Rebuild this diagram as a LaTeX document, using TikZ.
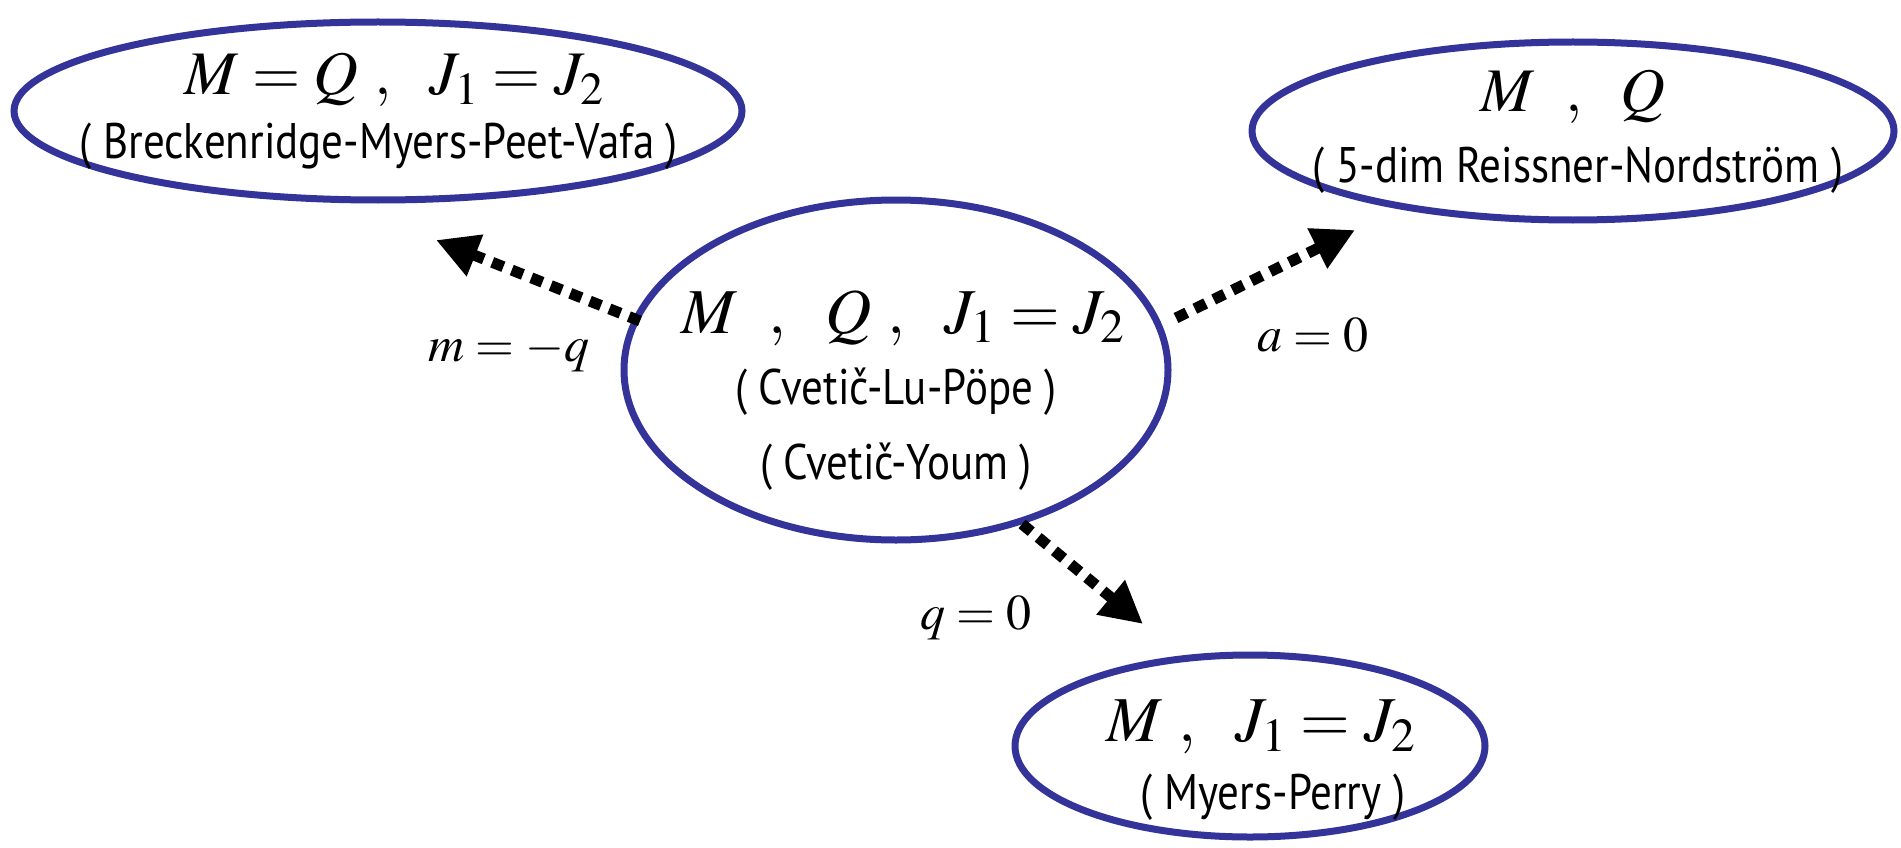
\documentclass[tikz,border=0pt]{standalone}
\usepackage{mathptmx}
\usepackage{fontspec}
\setmainfont{Liberation Serif}
\newfontfamily\subf[FakeStretch=0.86]{PT Sans}
\usetikzlibrary{shapes.geometric,arrows.meta}
\definecolor{ellblue}{RGB}{51,51,153}
\tikzset{
  ell/.style={ellipse, draw=ellblue, line width=7pt, inner sep=0pt},
  mainlbl/.style={inner sep=0pt, font=\fontsize{62}{66}\selectfont},
  sublbl/.style={inner sep=0pt, font=\subf\fontsize{50}{54}\selectfont},
  edgelbl/.style={inner sep=0pt, font=\fontsize{50}{56}\selectfont},
  arr/.style={line width=11pt, dash pattern=on 12pt off 9pt, draw=black,
    -{Triangle[length=42pt,width=42pt,fill=black]}}
}
\begin{document}
\begin{tikzpicture}[x=1pt,y=-1pt]
\useasboundingbox (0,0) rectangle (1901,848);
% ellipses
\node[ell, minimum width=728pt, minimum height=178pt] (tl) at (378,111) {};
\node[ell, minimum width=642pt, minimum height=178pt] (tr) at (1573,131) {};
\node[ell, minimum width=544pt, minimum height=340pt] (c) at (896,370) {};
\node[ell, minimum width=470pt, minimum height=182pt] (b) at (1250,746) {};
% texts
\node[mainlbl] (tlm) at (394,80) {$M=Q\ ,\ \ J_1=J_2$};
\node[sublbl] (tls) at (379,146) {( Breckenridge-Myers-Peet-Vafa )};
\node[mainlbl] (trm) at (1573,97) {$M\ \ ,\ \ Q$};
\node[sublbl] (trs) at (1578,170) {( 5-dim Reissner-Nordstr\"om )};
\node[mainlbl, font=\fontsize{64}{68}\selectfont] (cm) at (903,318) {$M\ \ ,\ \ Q\ ,\ \ J_1=J_2$};
\node[sublbl] (cs1) at (896,392) {( Cveti\v{c}-Lu-P\"ope )};
\node[sublbl] (cs2) at (896,467) {( Cveti\v{c}-Youm )};
\node[mainlbl, font=\fontsize{64}{68}\selectfont] (bm) at (1261,727) {$M\ ,\ \ J_1=J_2$};
\node[sublbl] (bs) at (1273,797) {( Myers-Perry )};
% arrows
\coordinate (s1) at (640,321);
\coordinate (e1) at (436,240);
\coordinate (s2) at (1176,318);
\coordinate (e2) at (1355,230);
\coordinate (s3) at (1022,524);
\coordinate (e3) at (1143,624);
\draw[arr] (s1) -- (e1);
\draw[arr] (s2) -- (e2);
\draw[arr] (s3) -- (e3);
% labels
\node[edgelbl] (l1) at (509,352) {$m=-q$};
\node[edgelbl] (l2) at (1313,335) {$a=0$};
\node[edgelbl] (l3) at (976,618) {$q=0$};
\end{tikzpicture}
\end{document}
